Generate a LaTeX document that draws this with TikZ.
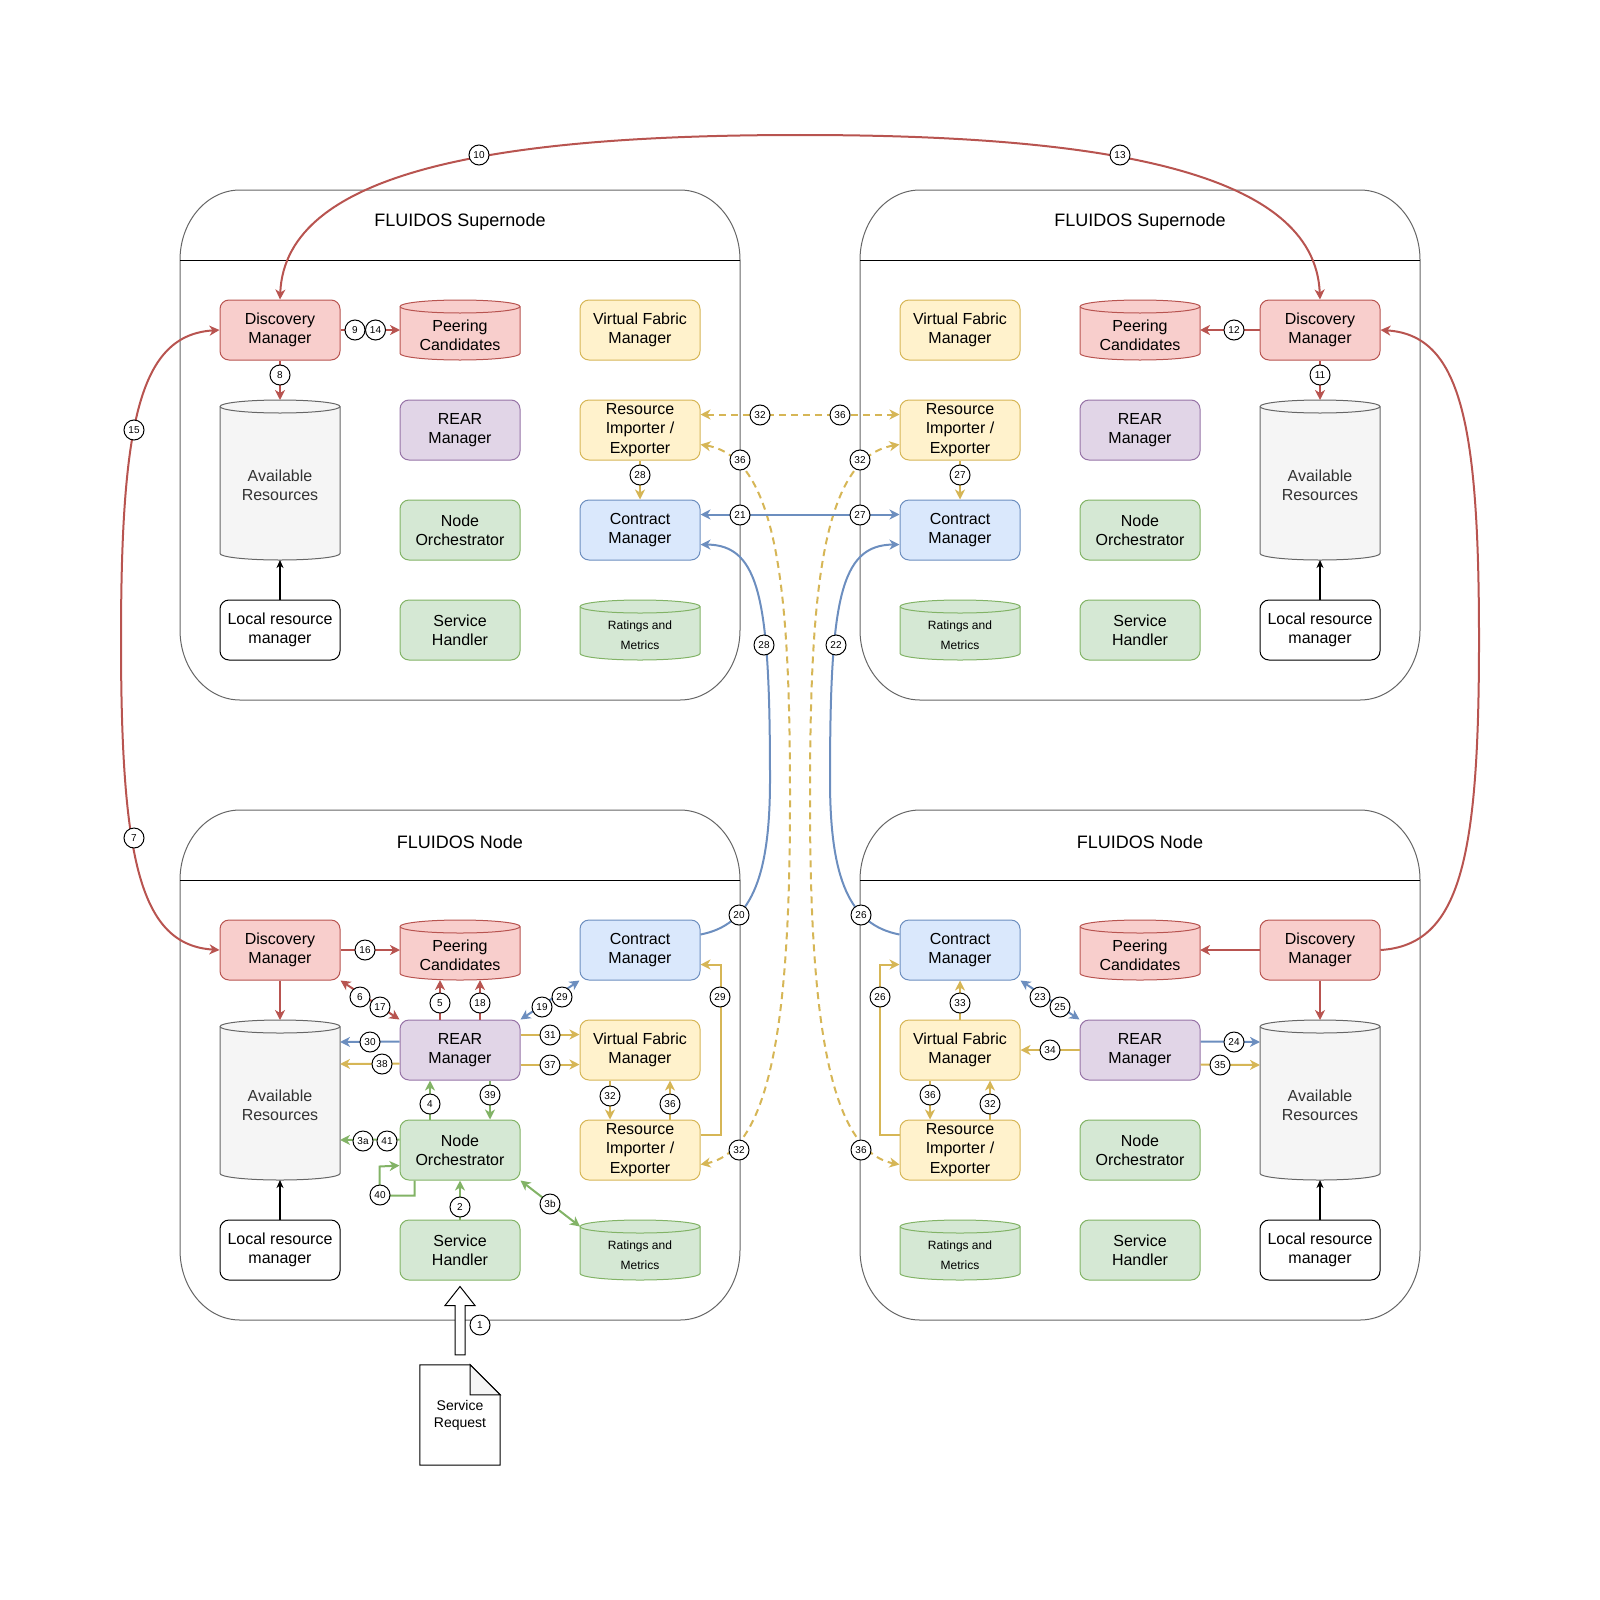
\documentclass[tikz,border=0pt]{standalone}
\usepackage{fontspec}
\setmainfont{Liberation Sans}
\usetikzlibrary{arrows.meta,calc}
\definecolor{rF}{HTML}{F8CECC}\definecolor{rD}{HTML}{B85450}
\definecolor{yF}{HTML}{FFF2CC}\definecolor{yD}{HTML}{D6B656}
\definecolor{bF}{HTML}{DAE8FC}\definecolor{bD}{HTML}{6C8EBF}
\definecolor{gF}{HTML}{D5E8D4}\definecolor{gD}{HTML}{82B366}
\definecolor{pF}{HTML}{E1D5E7}\definecolor{pD}{HTML}{9673A6}
\definecolor{aF}{HTML}{F5F5F5}\definecolor{aD}{HTML}{666666}\definecolor{aT}{HTML}{333333}
% cylinder: name, x, y, height, fill, draw, text style, text
\newcommand\cyl[8]{%
 \node[cyb, minimum height=#4pt] (#1) at (#2,#3) {};
 \path[fill=#5, draw=#6, line width=1pt] ($(#1.north west)+(0,6.5)$) -- ($(#1.south west)+(0,-6.5)$) .. controls +(0,3.6) and +(-33.1,0) .. (#1.south) .. controls +(33.1,0) and +(0,3.6) .. ($(#1.south east)+(0,-6.5)$) -- ($(#1.north east)+(0,6.5)$) .. controls +(0,-3.6) and +(33.1,0) .. (#1.north) .. controls +(-33.1,0) and +(0,-3.6) .. ($(#1.north west)+(0,6.5)$) -- cycle;
 \draw[draw=#6, line width=1pt] ($(#1.north west)+(0,6.5)$) .. controls +(0,3.6) and +(-33.1,0) .. ($(#1.north)+(0,13)$) .. controls +(33.1,0) and +(0,3.6) .. ($(#1.north east)+(0,6.5)$);
 \node[#7] (#1-t) at ($(#1)+(0,5.5)$) {#8};
}
% lane: x1, y1, name, title
\newcommand\lane[4]{%
 \draw[draw=aD, line width=1pt] (#1+60,#2) -- (#1+500,#2) .. controls (#1+533.1,#2) and (#1+560,#2+31.3) .. (#1+560,#2+70) -- (#1+560,#2+440) .. controls (#1+560,#2+478.7) and (#1+533.1,#2+510) .. (#1+500,#2+510) -- (#1+60,#2+510) .. controls (#1+26.9,#2+510) and (#1,#2+478.7) .. (#1,#2+440) -- (#1,#2+70) .. controls (#1,#2+31.3) and (#1+26.9,#2) .. (#1+60,#2) -- cycle;
 \draw[black, line width=1pt] (#1,#2+70) -- (#1+560,#2+70);
 \node[font=\fontsize{18}{21.6}\selectfont] (#3) at (#1+280,#2+32) {#4};
}
\begin{document}
\begin{tikzpicture}[x=1pt,y=-1pt,
 >={Stealth[length=10pt,width=10pt,inset=3pt]},
 bx/.style={rounded corners=9pt, minimum width=120pt, minimum height=60pt, inner sep=0pt, align=center, line width=1pt, font=\fontsize{16}{19.2}\selectfont},
 bred/.style={bx, fill=rF, draw=rD},
 byel/.style={bx, fill=yF, draw=yD},
 bblu/.style={bx, fill=bF, draw=bD},
 bgrn/.style={bx, fill=gF, draw=gD},
 bpur/.style={bx, fill=pF, draw=pD},
 bwht/.style={bx, fill=white, draw=black},
 cyb/.style={minimum width=120pt, inner sep=0pt, outer sep=0pt},
 ctxt/.style={align=center, font=\fontsize{16}{19.2}\selectfont},
 atxt/.style={align=center, text=aT, font=\fontsize{16}{19.2}\selectfont},
 rtxt/.style={align=center, font=\fontsize{12}{20}\selectfont},
 lbl/.style={circle, draw=black, fill=white, line width=1pt, minimum size=20pt, inner sep=0pt, font=\fontsize{10}{12}\selectfont},
 er/.style={draw=rD, line width=2pt, ->},
 ey/.style={draw=yD, line width=2pt, ->},
 eyd/.style={draw=yD, line width=2pt, dash pattern=on 7pt off 5pt, ->},
 eb/.style={draw=bD, line width=2pt, ->},
 eg/.style={draw=gD, line width=2pt, ->},
 ek/.style={draw=black, line width=1.2pt, -{Stealth[length=8pt,width=7pt,inset=2.5pt]}}
]
\useasboundingbox (0,0) rectangle (1600,1600);

% containers
\lane{180}{190}{tA}{FLUIDOS Supernode}
\lane{860}{190}{tB}{FLUIDOS Supernode}
\lane{180}{810}{tC}{FLUIDOS Node}
\lane{860}{810}{tD}{FLUIDOS Node}

% ---- top-left supernode
\node[bred] (dmA) at (280,330) {Discovery\\Manager};
\cyl{pcA}{460}{330}{60}{rF}{rD}{ctxt}{Peering\\Candidates}
\node[byel] (vfA) at (640,330) {Virtual Fabric\\Manager};
\cyl{arA}{280}{480}{160}{aF}{aD}{atxt}{Available\\Resources}
\node[bpur] (reA) at (460,430) {REAR\\Manager};
\node[byel] (riA) at (640,430) {Resource\\Importer /\\Exporter};
\node[bgrn] (noA) at (460,530) {Node\\Orchestrator};
\node[bblu] (cmA) at (640,530) {Contract\\Manager};
\node[bwht] (lrA) at (280,630) {Local resource\\manager};
\node[bgrn] (shA) at (460,630) {Service\\Handler};
\cyl{rmA}{640}{630}{60}{gF}{gD}{rtxt}{Ratings and\\Metrics}

% ---- top-right supernode
\node[byel] (vfB) at (960,330) {Virtual Fabric\\Manager};
\cyl{pcB}{1140}{330}{60}{rF}{rD}{ctxt}{Peering\\Candidates}
\node[bred] (dmB) at (1320,330) {Discovery\\Manager};
\node[byel] (riB) at (960,430) {Resource\\Importer /\\Exporter};
\node[bpur] (reB) at (1140,430) {REAR\\Manager};
\cyl{arB}{1320}{480}{160}{aF}{aD}{atxt}{Available\\Resources}
\node[bblu] (cmB) at (960,530) {Contract\\Manager};
\node[bgrn] (noB) at (1140,530) {Node\\Orchestrator};
\cyl{rmB}{960}{630}{60}{gF}{gD}{rtxt}{Ratings and\\Metrics}
\node[bgrn] (shB) at (1140,630) {Service\\Handler};
\node[bwht] (lrB) at (1320,630) {Local resource\\manager};

% ---- bottom-left node
\node[bred] (dmC) at (280,950) {Discovery\\Manager};
\cyl{pcC}{460}{950}{60}{rF}{rD}{ctxt}{Peering\\Candidates}
\node[bblu] (cmC) at (640,950) {Contract\\Manager};
\cyl{arC}{280}{1100}{160}{aF}{aD}{atxt}{Available\\Resources}
\node[bpur] (reC) at (460,1050) {REAR\\Manager};
\node[byel] (vfC) at (640,1050) {Virtual Fabric\\Manager};
\node[bgrn] (noC) at (460,1150) {Node\\Orchestrator};
\node[byel] (riC) at (640,1150) {Resource\\Importer /\\Exporter};
\node[bwht] (lrC) at (280,1250) {Local resource\\manager};
\node[bgrn] (shC) at (460,1250) {Service\\Handler};
\cyl{rmC}{640}{1250}{60}{gF}{gD}{rtxt}{Ratings and\\Metrics}

% ---- bottom-right node
\node[bblu] (cmD) at (960,950) {Contract\\Manager};
\cyl{pcD}{1140}{950}{60}{rF}{rD}{ctxt}{Peering\\Candidates}
\node[bred] (dmD) at (1320,950) {Discovery\\Manager};
\node[byel] (vfD) at (960,1050) {Virtual Fabric\\Manager};
\node[bpur] (reD) at (1140,1050) {REAR\\Manager};
\cyl{arD}{1320}{1100}{160}{aF}{aD}{atxt}{Available\\Resources}
\node[byel] (riD) at (960,1150) {Resource\\Importer /\\Exporter};
\node[bgrn] (noD) at (1140,1150) {Node\\Orchestrator};
\cyl{rmD}{960}{1250}{60}{gF}{gD}{rtxt}{Ratings and\\Metrics}
\node[bgrn] (shD) at (1140,1250) {Service\\Handler};
\node[bwht] (lrD) at (1320,1250) {Local resource\\manager};

% ---- service request
\node[minimum width=80pt, minimum height=100pt, inner sep=0pt] (srq) at (460,1415) {};
\draw[line width=1pt, fill=white] (srq.north west) -- ($(srq.north east)+(-30,0)$) -- ($(srq.north east)+(0,30)$) -- (srq.south east) -- (srq.south west) -- cycle;
\draw[line width=1pt, fill=aF] ($(srq.north east)+(-30,0)$) -- ($(srq.north east)+(-30,30)$) -- ($(srq.north east)+(0,30)$) -- cycle;
\node[align=center, font=\fontsize{14}{17}\selectfont] (srqt) at (460,1415) {Service\\Request};
\draw[line width=1pt, fill=white] ($(srq.north)+(-5,-10)$) -- ($(shC.south)+(-5,25)$) -- ($(shC.south)+(-15,25)$) -- ($(shC.south)+(0,6)$) -- ($(shC.south)+(15,25)$) -- ($(shC.south)+(5,25)$) -- ($(srq.north)+(5,-10)$) -- cycle;

% ---- edges: top-left
\draw[er] (dmA.south) -- (arA.north);
\draw[er] (dmA.east) -- (pcA.west);
\draw[ek] (lrA.north) -- (arA.south);
\draw[ey] (riA.south) -- (cmA.north);
% ---- edges: top-right
\draw[er] (dmB.west) -- (pcB.east);
\draw[er] (dmB.south) -- (arB.north);
\draw[ek] (lrB.north) -- (arB.south);
\draw[ey] (riB.south) -- (cmB.north);
% ---- cross edges
\draw[eyd,<->] ($(riA.north east)+(0,15)$) -- ($(riB.north west)+(0,15)$);
\draw[eyd,<->] ($(riA.north east)+(0,45)$) .. controls (780,458) and (790,600) .. (790,800) .. controls (790,1000) and (775,1150) .. ($(riC.north east)+(0,45)$);
\draw[eyd,<->] ($(riB.north west)+(0,45)$) .. controls (820,458) and (810,600) .. (810,800) .. controls (810,1000) and (825,1150) .. ($(riD.north west)+(0,45)$);
\draw[eb,<->] ($(cmA.north east)+(0,15)$) -- ($(cmB.north west)+(0,15)$);
\draw[eb] ($(cmC.north east)+(0,15)$) .. controls (750,925) and (770,880) .. (770,780) .. controls (770,600) and (760,545) .. ($(cmA.north east)+(0,45)$);
\draw[eb] ($(cmD.north west)+(0,15)$) .. controls (850,925) and (830,880) .. (830,780) .. controls (830,600) and (840,545) .. ($(cmB.north west)+(0,45)$);
\draw[er,<->] (dmA.north) .. controls (285,170) and (500,135) .. (800,135) .. controls (1100,135) and (1315,170) .. (dmB.north);
\draw[er,<->] (dmA.west) .. controls (140,335) and (121,420) .. (121,640) .. controls (121,860) and (140,945) .. (dmC.west);
\draw[er] (dmD.east) .. controls (1460,945) and (1479,860) .. (1479,640) .. controls (1479,420) and (1460,335) .. (dmB.east);

% ---- edges: bottom-left
\draw[er] (dmC.east) -- (pcC.west);
\draw[er] (dmC.south) -- (arC.north);
\draw[er,<->] (dmC.south east) -- (reC.north west);
\draw[er] ($(reC.north)+(-20,0)$) -- ($(pcC.south)+(-20,0)$);
\draw[er] ($(reC.north)+(20,0)$) -- ($(pcC.south)+(20,0)$);
\draw[eb] ($(reC.north west)+(0,22)$) -- ($(arC.north east)+(0,22)$);
\draw[ey] ($(reC.north west)+(0,44)$) -- ($(arC.north east)+(0,44)$);
\draw[ey] ($(reC.north east)+(0,15)$) -- ($(vfC.north west)+(0,15)$);
\draw[ey] ($(reC.north east)+(0,45)$) -- ($(vfC.north west)+(0,45)$);
\draw[eg] ($(noC.north)+(-30,0)$) -- ($(reC.south)+(-30,0)$);
\draw[eg] ($(reC.south)+(30,0)$) -- ($(noC.north)+(30,0)$);
\draw[eg] ($(noC.north west)+(0,20)$) -- ($(arC.north east)+(0,120)$);
\draw[eg] ($(noC.south west)+(15,0)$) -- ++(0,15) -- ++(-35,0) -- ++(0,-29) -- ($(noC.north west)+(0,46)$);
\draw[eg] (shC.north) -- (noC.south);
\draw[eg,<->] (noC.south east) -- ($(rmC.north west)+(0,6.5)$);
\draw[eb,<->] (reC.north east) -- (cmC.south west);
\draw[ey] ($(vfC.south)+(-30,0)$) -- ($(riC.north)+(-30,0)$);
\draw[ey] ($(riC.north)+(30,0)$) -- ($(vfC.south)+(30,0)$);
\draw[ey] ($(riC.north east)+(0,15)$) -- ++(20,0) |- ($(cmC.north east)+(0,45)$);
\draw[ek] (lrC.north) -- (arC.south);

% ---- edges: bottom-right
\draw[er] (dmD.west) -- (pcD.east);
\draw[er] (dmD.south) -- (arD.north);
\draw[ey] (vfD.north) -- (cmD.south);
\draw[eb,<->] (cmD.south east) -- (reD.north west);
\draw[ey] (reD.west) -- (vfD.east);
\draw[eb] ($(reD.north east)+(0,22)$) -- ($(arD.north west)+(0,22)$);
\draw[ey] ($(reD.north east)+(0,45)$) -- ($(arD.north west)+(0,45)$);
\draw[ey] ($(vfD.south)+(-30,0)$) -- ($(riD.north)+(-30,0)$);
\draw[ey] ($(riD.north)+(30,0)$) -- ($(vfD.south)+(30,0)$);
\draw[ey] ($(riD.north west)+(0,15)$) -- ++(-20,0) |- ($(cmD.north west)+(0,45)$);
\draw[ek] (lrD.north) -- (arD.south);

% ---- labels
\node[lbl] (n8) at (280,375) {8};
\node[lbl] (n9) at (355,330) {9};
\node[lbl] (n14) at (375.5,330) {14};
\node[lbl] (n28a) at (640,475) {28};
\node[lbl] (n32a) at (760,415) {32};
\node[lbl] (n36a) at (840,415) {36};
\node[lbl] (n36b) at (740,460) {36};
\node[lbl] (n32b) at (860,460) {32};
\node[lbl] (n21) at (740,515) {21};
\node[lbl] (n27a) at (860,515) {27};
\node[lbl] (n28b) at (764,645) {28};
\node[lbl] (n22) at (836,645) {22};
\node[lbl] (n10) at (479,155) {10};
\node[lbl] (n13) at (1120,155) {13};
\node[lbl] (n15) at (134,430) {15};
\node[lbl] (n7) at (134,838) {7};
\node[lbl] (n12) at (1234,330) {12};
\node[lbl] (n11) at (1320,375) {11};
\node[lbl] (n27b) at (960,475) {27};
\node[lbl] (n20) at (739,915) {20};
\node[lbl] (n26a) at (861,915) {26};
\node[lbl] (n16) at (365,950) {16};
\node[lbl] (n6) at (360,997) {6};
\node[lbl] (n17) at (380,1007) {17};
\node[lbl] (n5) at (440,1003) {5};
\node[lbl] (n18) at (480,1003) {18};
\node[lbl] (n19) at (542,1007) {19};
\node[lbl] (n29a) at (562,997) {29};
\node[lbl] (n31) at (550,1035) {31};
\node[lbl] (n37) at (550,1065) {37};
\node[lbl] (n30) at (370,1042) {30};
\node[lbl] (n38) at (382,1064) {38};
\node[lbl] (n4) at (430,1104) {4};
\node[lbl] (n39) at (490,1095) {39};
\node[lbl] (n3a) at (363,1141) {3a};
\node[lbl] (n41) at (387,1141) {41};
\node[lbl] (n40) at (380,1195) {40};
\node[lbl] (n2) at (460,1207) {2};
\node[lbl] (n3b) at (550,1204) {3b};
\node[lbl] (n32c) at (610,1096) {32};
\node[lbl] (n36c) at (670,1104) {36};
\node[lbl] (n29b) at (720,997) {29};
\node[lbl] (n32d) at (739,1150) {32};
\node[lbl] (n1) at (480,1325) {1};
\node[lbl] (n36d) at (861,1150) {36};
\node[lbl] (n26b) at (880,997) {26};
\node[lbl] (n33) at (960,1003) {33};
\node[lbl] (n23) at (1040,997) {23};
\node[lbl] (n25) at (1060,1007) {25};
\node[lbl] (n34) at (1050,1050) {34};
\node[lbl] (n24) at (1234,1042) {24};
\node[lbl] (n35) at (1220,1065) {35};
\node[lbl] (n36e) at (930,1095) {36};
\node[lbl] (n32e) at (990,1104) {32};
\end{tikzpicture}
\end{document}
